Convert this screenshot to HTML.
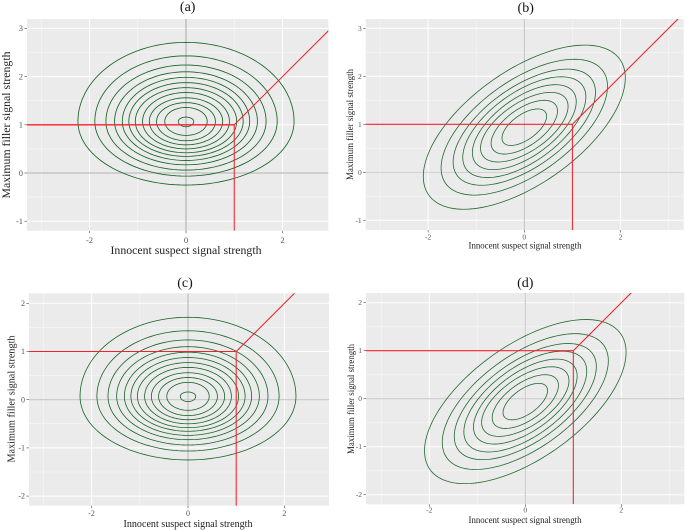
<!DOCTYPE html>
<html lang="en">
<head>
<meta charset="utf-8">
<title>Signal strength contour panels</title>
<style>
html,body{margin:0;padding:0;background:#fff;}
#figure{display:block;width:685px;height:530px;font-family:"Liberation Serif",serif;filter:blur(0.22px);}
</style>
</head>
<body>
<svg id="figure" xmlns="http://www.w3.org/2000/svg" width="685" height="530" viewBox="0 0 685 530"></svg>
<script>
// Independent-model panels (a, c): ring extents relative to the filler mean
var eggHalfWidths = [2.24, 1.89, 1.66, 1.48, 1.32, 1.185, 1.05, 0.90, 0.76, 0.61, 0.44, 0.16];
var eggTops = [1.71, 1.43, 1.24, 1.10, 0.985, 0.875, 0.77, 0.67, 0.56, 0.46, 0.36, 0.16];
var eggBottoms = [-1.25, -1.065, -0.94, -0.83, -0.74, -0.655, -0.58, -0.50, -0.415, -0.33, -0.22, -0.04];
var eggWidestOffset = 0.07;

// Correlated-model panels (b, d): tilted ring extents
var tiltHalfWidths = [2.10, 1.73, 1.48, 1.28, 1.08, 0.91, 0.69, 0.464];
var tiltHalfHeights = [1.71, 1.415, 1.21, 1.05, 0.885, 0.725, 0.56, 0.38];
var tiltCorrelation = 0.6;
var tiltCentreOffset = -0.06;

// Filler means per panel
var fillerMeanA = 1;
var fillerMeanB = 1;
var fillerMeanC = 0;
var fillerMeanD = 0;

// Decision criterion
var criterion = 1;

// Axis breaks
var xTicks = [-2, 0, 2];
var xMinor = [-3, -1, 1, 3];
var yTicksUpper = [-1, 0, 1, 2, 3];
var yMinorUpper = [-0.5, 0.5, 1.5, 2.5];
var yTicksLower = [-2, -1, 0, 1, 2];
var yMinorLower = [-1.5, -0.5, 0.5, 1.5];

var xAxisTitle = "Innocent suspect signal strength";
var yAxisTitle = "Maximum filler signal strength";

var NS = "http://www.w3.org/2000/svg";
var root = document.getElementById("figure");

function mk(parent, tag, attrs, txt) {
  var n = document.createElementNS(NS, tag);
  for (var k in attrs) { n.setAttribute(k, attrs[k]); }
  if (txt !== undefined) { n.textContent = txt; }
  parent.appendChild(n);
  return n;
}

function drawPanel(p) {
  var sx = function (v) { return p.x0 + v * p.ux; };
  var sy = function (v) { return p.y0 - v * p.uy; };
  var e;

  var g = mk(root, "g", {});
  
  

  var clip = mk(g, "clipPath", { id: "clip-" + p.id });
  mk(clip, "rect", { x: p.left, y: p.top, width: p.right - p.left, height: p.bottom - p.top });

  e = mk(g, "rect", { x: p.left, y: p.top, width: p.right - p.left, height: p.bottom - p.top, fill: "#ebebeb" });
  
  

  xMinor.forEach(function (v) {
    if (sx(v) < p.left || sx(v) > p.right) { return; }
    var l = mk(g, "line", { x1: sx(v), x2: sx(v), y1: p.top, y2: p.bottom, stroke: "#f7f7f7", "stroke-width": 0.6 });
    
    
  });
  p.yMinor.forEach(function (v) {
    var l = mk(g, "line", { x1: p.left, x2: p.right, y1: sy(v), y2: sy(v), stroke: "#f7f7f7", "stroke-width": 0.6 });
    
    
  });
  xTicks.forEach(function (v) {
    var l = mk(g, "line", { x1: sx(v), x2: sx(v), y1: p.top, y2: p.bottom, stroke: "#fff", "stroke-width": 1 });
    
    
    var t = mk(g, "line", { x1: sx(v), x2: sx(v), y1: p.bottom, y2: p.bottom + 2.5, stroke: "#444", "stroke-width": 0.6 });
    
    
    var lb = mk(g, "text", { x: sx(v), y: p.xTickY, "text-anchor": "middle", "font-size": p.tickSize, fill: "#555" }, String(v));
    
    
  });
  p.yTicks.forEach(function (v) {
    var l = mk(g, "line", { x1: p.left, x2: p.right, y1: sy(v), y2: sy(v), stroke: "#fff", "stroke-width": 1 });
    
    
    var t = mk(g, "line", { x1: p.left - 2.5, x2: p.left, y1: sy(v), y2: sy(v), stroke: "#444", "stroke-width": 0.6 });
    
    
    var lb = mk(g, "text", { x: p.left - 4, y: sy(v) + p.tickSize * 0.33, "text-anchor": "end", "font-size": p.tickSize, fill: "#555" }, String(v));
    
    
  });

  e = mk(g, "line", { x1: p.left, x2: p.right, y1: sy(0), y2: sy(0), stroke: "#c6c6c6", "stroke-width": p.zeroH });
  
  
  e = mk(g, "line", { x1: sx(0), x2: sx(0), y1: p.top, y2: p.bottom, stroke: p.zeroVColor, "stroke-width": p.zeroV });
  
  

  var plot = mk(g, "g", { "clip-path": "url(#clip-" + p.id + ")" });
  
  

  var steps = 120, i, j, d, th;
  if (p.kind === "egg") {
    for (i = 0; i < eggHalfWidths.length; i++) {
      d = "";
      for (j = 0; j <= steps; j++) {
        th = j / steps * 2 * Math.PI;
        var s = Math.sin(th);
        var reach = s >= 0 ? eggTops[i] - eggWidestOffset : -(eggBottoms[i] - eggWidestOffset);
        var ex = eggHalfWidths[i] * Math.cos(th);
        var ey = p.mean + eggWidestOffset + reach * s;
        d += (j ? "L" : "M") + sx(ex).toFixed(2) + " " + sy(ey).toFixed(2);
      }
      var ring = mk(plot, "path", { d: d + "Z", fill: "none", stroke: "#146424", "stroke-width": p.ringW });
      
      
    }
  } else {
    var delta = Math.acos(tiltCorrelation);
    for (i = 0; i < tiltHalfWidths.length; i++) {
      d = "";
      for (j = 0; j <= steps; j++) {
        th = j / steps * 2 * Math.PI;
        var tx = tiltHalfWidths[i] * Math.cos(th);
        var ty = p.mean + tiltCentreOffset + tiltHalfHeights[i] * Math.cos(th - delta);
        d += (j ? "L" : "M") + sx(tx).toFixed(2) + " " + sy(ty).toFixed(2);
      }
      var tring = mk(plot, "path", { d: d + "Z", fill: "none", stroke: "#1f6a2c", "stroke-width": p.ringW });
      
      
    }
  }

  var red = "#f4202c";
  e = mk(plot, "line", { x1: p.left, x2: sx(criterion), y1: sy(criterion), y2: sy(criterion), stroke: red, "stroke-width": p.hLineW });
  
  
  e = mk(plot, "line", { x1: sx(criterion), x2: sx(criterion), y1: sy(criterion), y2: p.bottom, stroke: red, "stroke-width": 1.05 });
  
  
  e = mk(plot, "line", { x1: sx(criterion), x2: sx(criterion + 5), y1: sy(criterion), y2: sy(criterion + 5), stroke: red, "stroke-width": 1.05 });
  
  

  e = mk(g, "text", { x: p.titleX, y: p.titleY, "text-anchor": "middle", "font-size": 14, fill: "#111" }, "(" + p.id + ")");
  
  

  e = mk(g, "text", { x: p.xLabelX, y: p.xLabelY, "text-anchor": "middle", "font-size": p.labelSize, fill: "#222", textLength: p.xLabelW, lengthAdjust: "spacingAndGlyphs" }, xAxisTitle);
  
  

  e = mk(g, "text", { x: 0, y: 0, transform: "translate(" + p.yLabelX + " " + p.yLabelY + ") rotate(-90)", "text-anchor": "middle", "font-size": p.labelSize, fill: "#222", textLength: p.yLabelW, lengthAdjust: "spacingAndGlyphs" }, yAxisTitle);
  
  
}

drawPanel({ id: "a", kind: "egg", mean: fillerMeanA, left: 27, right: 328.3, top: 19, bottom: 230.7, x0: 186, y0: 173, ux: 48.25, uy: 48.2,
  yTicks: yTicksUpper, yMinor: yMinorUpper, tickSize: 8.5, labelSize: 11.5, xTickY: 243, titleX: 187.7, titleY: 11,
  xLabelX: 186, xLabelY: 254, xLabelW: 151, yLabelX: 10, yLabelY: 125, yLabelW: 147, zeroH: 1.6, zeroV: 1, zeroVColor: "#a9a9a9", ringW: 0.85, hLineW: 1.4 });

drawPanel({ id: "b", kind: "tilt", mean: fillerMeanB, left: 365.7, right: 683.7, top: 19, bottom: 230, x0: 524.3, y0: 172.3, ux: 48.1, uy: 48,
  yTicks: yTicksUpper, yMinor: yMinorUpper, tickSize: 7.5, labelSize: 9.5, xTickY: 239.5, titleX: 525.7, titleY: 12,
  xLabelX: 525, xLabelY: 248.5, xLabelW: 113, yLabelX: 353, yLabelY: 124.5, yLabelW: 111, zeroH: 0.9, zeroV: 0.9, zeroVColor: "#b9b9b9", ringW: 0.8, hLineW: 1.05 });

drawPanel({ id: "c", kind: "egg", mean: fillerMeanC, left: 29, right: 329, top: 293.3, bottom: 505.7, x0: 188, y0: 399.7, ux: 48.2, uy: 48.2,
  yTicks: yTicksLower, yMinor: yMinorLower, tickSize: 8, labelSize: 10.5, xTickY: 516, titleX: 185, titleY: 287,
  xLabelX: 188, xLabelY: 527, xLabelW: 129, yLabelX: 14.5, yLabelY: 399, yLabelW: 127, zeroH: 1.1, zeroV: 1.4, zeroVColor: "#c4c4c4", ringW: 0.8, hLineW: 1.05 });

drawPanel({ id: "d", kind: "tilt", mean: fillerMeanD, left: 366, right: 684.3, top: 293, bottom: 504.3, x0: 525.3, y0: 398.7, ux: 48, uy: 48,
  yTicks: yTicksLower, yMinor: yMinorLower, tickSize: 7.5, labelSize: 9.5, xTickY: 512.5, titleX: 525.3, titleY: 287,
  xLabelX: 525, xLabelY: 523, xLabelW: 113, yLabelX: 354, yLabelY: 399, yLabelW: 110, zeroH: 1, zeroV: 1, zeroVColor: "#c6c6c6", ringW: 0.8, hLineW: 1.05 });
</script>
</body>
</html>
